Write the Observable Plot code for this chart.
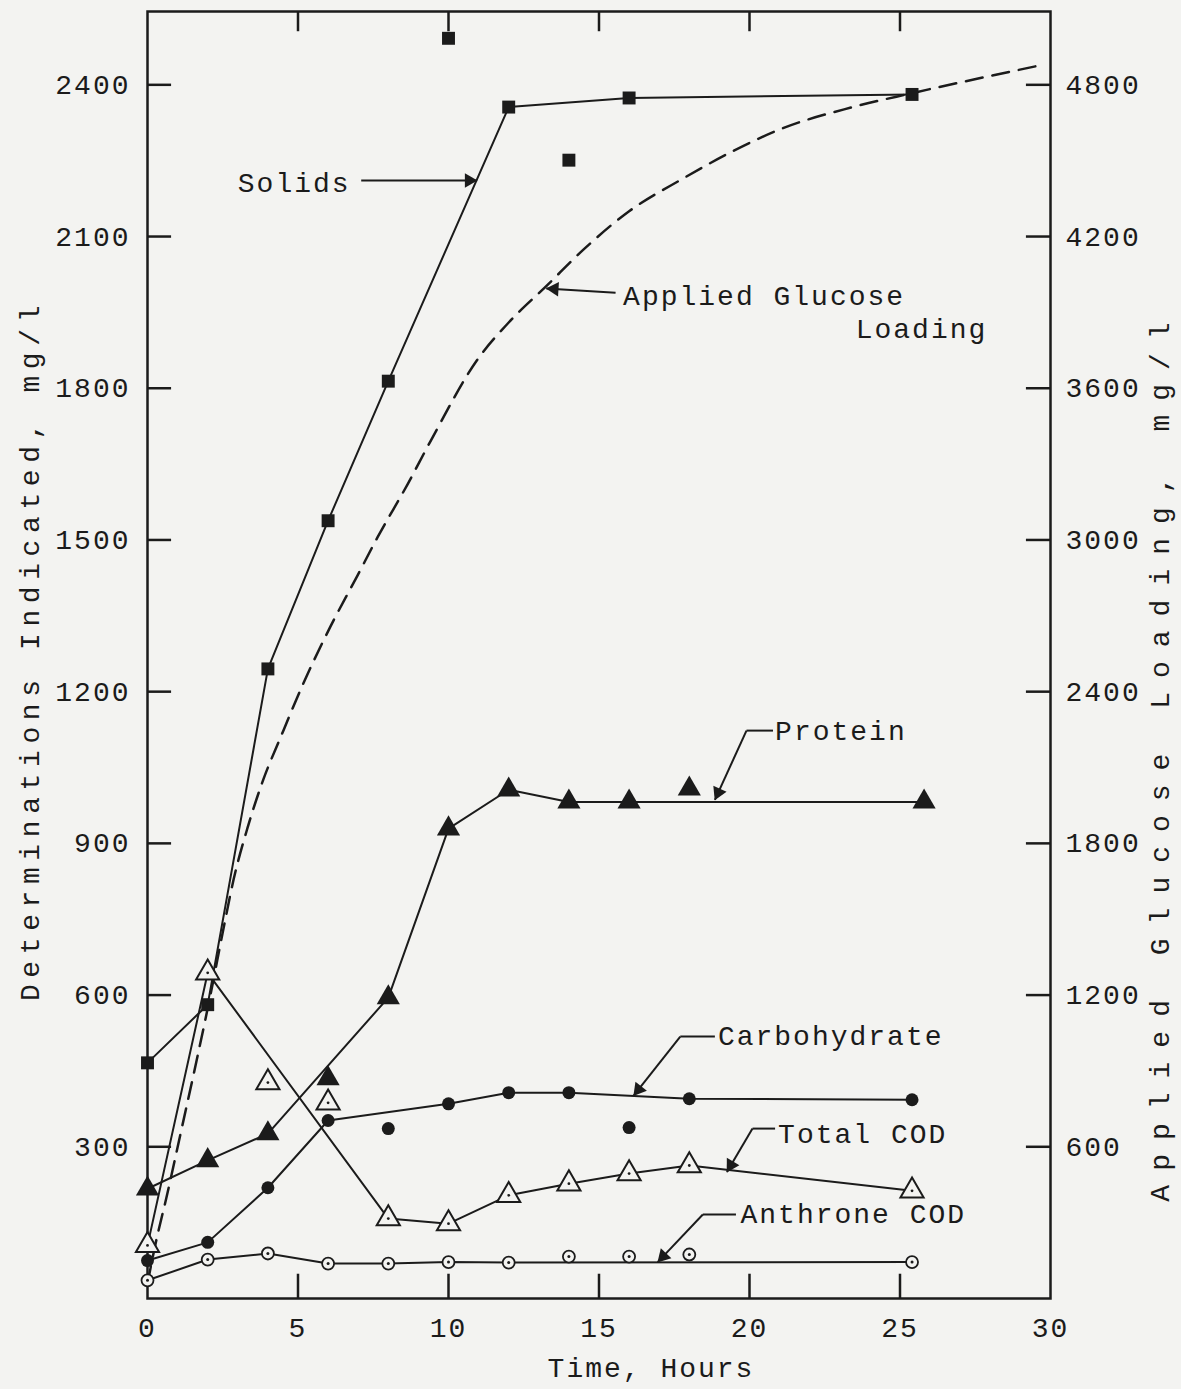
<!DOCTYPE html>
<html>
<head>
<meta charset="utf-8">
<script src="https://cdn.jsdelivr.net/npm/d3@7"></script>
<script src="https://cdn.jsdelivr.net/npm/@observablehq/plot@0.6"></script>
<style>
  html, body { margin: 0; padding: 0; background: #f3f3f1; }
</style>
</head>
<body>
<div id="chart"></div>
<script>
// ---------- data ----------
// time, hours
const solidsT   = [0, 2, 4, 6, 8, 10, 12, 14, 16, 25.4];
const solidsV   = [466, 581, 1245, 1538, 1814, 2492, 2356, 2251, 2374, 2381];
const solidsOn  = [1, 1, 1, 1, 1, 0, 1, 0, 1, 1];

const proteinT  = [0, 2, 4, 6, 8, 10, 12, 14, 16, 18, 25.8];
const proteinV  = [217, 273, 326, 435, 595, 929, 1006, 982, 982, 1008, 982];
const proteinOn = [1, 1, 1, 0, 1, 1, 1, 1, 1, 0, 1];

const codT      = [0, 2, 4, 6, 8, 10, 12, 14, 16, 18, 25.4];
const codV      = [105, 644, 427, 387, 158, 148, 204, 227, 247, 263, 213];
const codOn     = [1, 1, 0, 0, 1, 1, 1, 1, 1, 1, 1];

const carbT     = [0, 2, 4, 6, 8, 10, 12, 14, 16, 18, 25.4];
const carbV     = [75, 111, 219, 352, 336, 385, 407, 407, 338, 395, 393];
const carbOn    = [1, 1, 1, 1, 0, 1, 1, 1, 0, 1, 1];

const anthT     = [0, 2, 4, 6, 8, 10, 12, 14, 16, 18, 25.4];
const anthV     = [36, 77, 89, 69, 69, 72, 71, 83, 83, 87, 72];
const anthOn    = [1, 1, 1, 1, 1, 1, 1, 0, 0, 0, 1];

// applied glucose loading (right axis, mg/l)
const glucoseT  = [0, 0.27, 0.66, 1.1, 1.63, 2.09, 2.52, 2.86, 3.32, 3.85, 4.42, 5.18, 6.08, 6.98, 7.64, 8.64, 9.4, 11, 12, 13.3, 14.5, 16, 17.8, 19.5, 21.1, 23.4, 25.4, 29.5];
const glucoseV  = [60, 218, 415, 653, 940, 1200, 1460, 1657, 1860, 2053, 2219, 2433, 2658, 2860, 3010, 3220, 3390, 3720, 3860, 4010, 4150, 4300, 4430, 4541, 4628, 4711, 4767, 4873];
const glucoseRatio = 2; // right axis = 2 x left axis

// axes
const xTicks      = [0, 5, 10, 15, 20, 25, 30];
const xInnerTicks = [5, 10, 15, 20, 25];
const leftTicks   = [300, 600, 900, 1200, 1500, 1800, 2100, 2400];
const rightTicks  = [600, 1200, 1800, 2400, 3000, 3600, 4200, 4800];
const yMax = 2545;

const xTitle     = "Time, Hours";
const leftTitle  = "Determinations Indicated, mg/l";
const rightTitle = "Applied Glucose Loading, mg/l";

// annotations (in data units: hours, mg/l on left axis)
const labelsStart = [
  {text: "Solids",          t: 3.0,   v: 2205},
  {text: "Applied Glucose", t: 15.8,  v: 1983},
  {text: "Protein",         t: 20.85, v: 1123},
  {text: "Carbohydrate",    t: 18.95, v: 520},
  {text: "Total COD",       t: 20.95, v: 326},
  {text: "Anthrone COD",    t: 19.7,  v: 168}
];
const labelsEnd = [
  {text: "Loading",         t: 27.9,  v: 1918}
];
const leaderLines = [ // horizontal stubs
  {x1: 20.78, y1: 1123, x2: 19.9,  y2: 1123},
  {x1: 18.85, y1: 518,  x2: 17.7,  y2: 518},
  {x1: 20.85, y1: 336,  x2: 20.1,  y2: 336},
  {x1: 19.55, y1: 166,  x2: 18.45, y2: 166}
];
const arrows = [ // shafts ending in a filled head
  {x1: 19.9,  y1: 1123, x2: 18.85, y2: 986},   // Protein
  {x1: 17.7,  y1: 518,  x2: 16.15, y2: 401},   // Carbohydrate
  {x1: 20.1,  y1: 336,  x2: 19.25, y2: 250},   // Total COD
  {x1: 18.45, y1: 166,  x2: 16.95, y2: 72},    // Anthrone COD
  {x1: 7.1,   y1: 2211, x2: 10.95, y2: 2211},  // Solids
  {x1: 15.55, y1: 1989, x2: 13.25, y2: 1997}   // Applied glucose
];

// ---------- build ----------
const ink = "#1b1b1b";
const paper = "#f3f3f1";
const W = 1181, H = 1389, mL = 147, mR = 131, mT = 11, mB = 91;
const kx = (W - mL - mR) / 30;    // px per hour
const ky = (H - mT - mB) / yMax;  // px per mg/l

const rows = (T, V, On) => T.map((t, i) => ({t, v: V[i], on: On ? On[i] === 1 : true}));
const solids  = rows(solidsT, solidsV, solidsOn);
const protein = rows(proteinT, proteinV, proteinOn);
const cod     = rows(codT, codV, codOn);
const carb    = rows(carbT, carbV, carbOn);
const anth    = rows(anthT, anthV, anthOn);
const glucose = rows(glucoseT, glucoseV);

// arrow heads: filled triangles at the tips, oriented along the shaft
const heads = arrows.map(a => {
  const dx = (a.x2 - a.x1) * kx, dy = -(a.y2 - a.y1) * ky;
  const len = Math.hypot(dx, dy), ux = dx / len, uy = dy / len;
  const back = 8;
  return {t: a.x2 - back * ux / kx, v: a.y2 + back * uy / ky, angle: Math.atan2(ux, -uy) * 180 / Math.PI};
});

const lineOpts = {x: "t", y: "v", stroke: ink, strokeWidth: 2};

const plot = Plot.plot({
  width: W,
  height: H,
  marginLeft: mL,
  marginRight: mR,
  marginTop: mT,
  marginBottom: mB,
  style: "background:" + paper + ";color:" + ink + ";font-family:'Liberation Mono', 'DejaVu Sans Mono', monospace;font-size:28px;letter-spacing:2px;",
  x: {domain: [0, 30]},
  y: {domain: [0, yMax]},
  marks: [
    // axes (labels only) + inward ticks
    Plot.axisX({ticks: xTicks, tickSize: 0, tickPadding: 19, tickFormat: d => String(d), label: null}),
    Plot.axisY({anchor: "left", ticks: leftTicks, tickSize: 0, tickPadding: 17, tickFormat: d => String(d), label: null}),
    Plot.axisY({anchor: "right", ticks: rightTicks.map(d => d / glucoseRatio), tickFormat: d => String(d * glucoseRatio), tickSize: 0, tickPadding: 15, label: null}),
    Plot.ruleY(leftTicks,  {y: d => d, x1: 0, x2: 0.8, stroke: ink, strokeWidth: 2.5}),
    Plot.ruleY(rightTicks, {y: d => d / glucoseRatio, x1: 29.2, x2: 30, stroke: ink, strokeWidth: 2.5}),
    Plot.ruleX(xInnerTicks, {x: d => d, y1: 0, y2: 48, stroke: ink, strokeWidth: 2.5}),
    Plot.ruleX(xInnerTicks, {x: d => d, y1: yMax, y2: yMax - 40, stroke: ink, strokeWidth: 2.5}),
    Plot.frame({stroke: ink, strokeWidth: 2.5}),

    // axis titles
    Plot.text([leftTitle],  {text: d => d, frameAnchor: "left",  textAnchor: "middle", rotate: -90, dx: -117, dy: -5}),
    Plot.text([rightTitle], {text: d => d, frameAnchor: "right", textAnchor: "middle", rotate: -90, dx: 110, dy: 100}),
    Plot.text([xTitle],     {text: d => d, frameAnchor: "bottom", textAnchor: "middle", dx: 52, dy: 78}),

    // glucose loading
    Plot.line(glucose, {x: "t", y: d => d.v / glucoseRatio, stroke: ink, strokeWidth: 2.5, strokeDasharray: "17,10", curve: "monotone-x"}),

    // series lines
    Plot.line(solids.filter(d => d.on),  lineOpts),
    Plot.line(protein.filter(d => d.on), lineOpts),
    Plot.line(cod.filter(d => d.on),     lineOpts),
    Plot.line(carb.filter(d => d.on),    lineOpts),
    Plot.line(anth.filter(d => d.on),    lineOpts),

    // markers
    Plot.dot(solids,  {x: "t", y: "v", symbol: "square",   r: 7.3, fill: ink, stroke: null}),
    Plot.dot(protein, {x: "t", y: "v", symbol: "triangle", r: 8.6, fill: ink, stroke: null}),
    Plot.dot(cod,     {x: "t", y: "v", symbol: "triangle", r: 8.6, fill: paper, stroke: ink, strokeWidth: 2}),
    Plot.dot(cod,     {x: "t", y: "v", r: 1.4, fill: ink, stroke: null}),
    Plot.dot(carb,    {x: "t", y: "v", symbol: "circle",   r: 6.5, fill: ink, stroke: null}),
    Plot.dot(anth,    {x: "t", y: "v", r: 6, fill: paper, stroke: ink, strokeWidth: 1.8}),
    Plot.dot(anth,    {x: "t", y: "v", r: 1.5, fill: ink, stroke: null}),

    // annotations
    Plot.text(labelsStart, {x: "t", y: "v", text: "text", textAnchor: "start", fill: ink}),
    Plot.text(labelsEnd,   {x: "t", y: "v", text: "text", textAnchor: "end", fill: ink}),
    Plot.link(leaderLines, {x1: "x1", y1: "y1", x2: "x2", y2: "y2", stroke: ink, strokeWidth: 2}),
    Plot.link(arrows, {x1: "x1", y1: "y1", x2: "x2", y2: "y2", stroke: ink, strokeWidth: 2}),
    Plot.dot(heads, {x: "t", y: "v", symbol: "triangle", r: 5.4, rotate: "angle", fill: ink, stroke: null})
  ]
});

const sel = d3.select(plot).selectAll("text");
sel.filter(function() { return this.textContent === leftTitle; }).style("letter-spacing", "6.6px");
sel.filter(function() { return this.textContent === rightTitle; }).style("letter-spacing", "14px");
document.getElementById("chart").appendChild(plot);
</script>
</body>
</html>
